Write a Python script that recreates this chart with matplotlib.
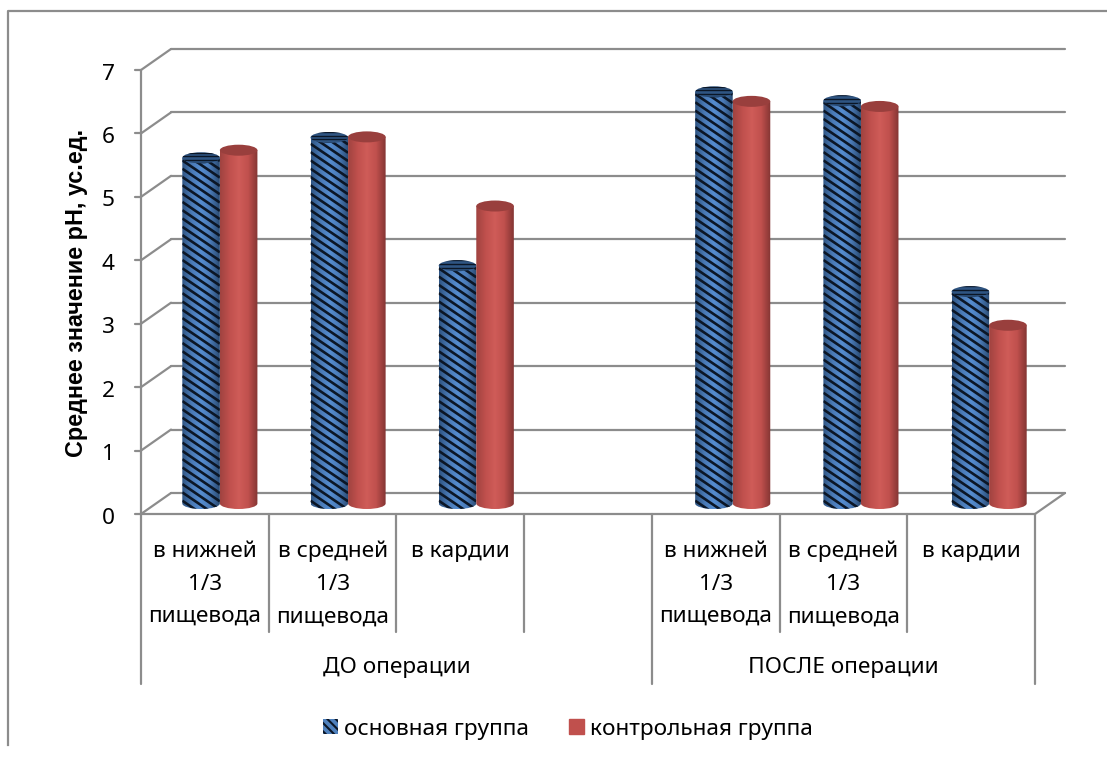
import matplotlib
matplotlib.use("Agg")
import matplotlib.pyplot as plt
import numpy as np
from matplotlib.collections import LineCollection
from matplotlib.colors import LinearSegmentedColormap
from matplotlib.lines import Line2D
from matplotlib.patches import Patch, PathPatch
from matplotlib.path import Path
from matplotlib.transforms import Affine2D

plt.rcParams['font.family'] = ['Noto Sans', 'DejaVu Sans']
plt.rcParams['hatch.linewidth'] = 1.5

W, H = 1107, 760

# data
inner_labels = ["в нижней\n1/3\nпищевода", "в средней\n1/3\nпищевода", "в кардии", "",
                "в нижней\n1/3\nпищевода", "в средней\n1/3\nпищевода", "в кардии"]
outer_labels = ["ДО операции", "ПОСЛЕ операции"]
series_names = ["основная группа", "контрольная группа"]
slots = [0, 1, 2, 4, 5, 6]
main_group = [5.45, 5.77, 3.75, 6.49, 6.35, 3.34]
control_group = [5.57, 5.78, 4.69, 6.34, 6.26, 2.81]

GRID = "#8c8c8c"
BLUE = "#4f81bd"
RED = "#c0504d"
HATCH = "#0b1626"
FONT = 16.3

blue_map = LinearSegmentedColormap.from_list("b", ["#2f5583", "#4a7ab6", "#558dd0", "#4a7ab6", "#2a4a72"])
red_map = LinearSegmentedColormap.from_list("r", ["#a04340", "#c0504d", "#cf5c58", "#c0504d", "#843533"])

fig = plt.figure(figsize=(W / 100, H / 100), dpi=100)
# front plane of the 3D box: x 141..1035, y 70..514 px
ax = fig.add_axes([141 / W, 1 - 514 / H, (1035 - 141) / W, (514 - 70) / H])
ax.set_xlim(0, 7)
ax.set_ylim(0, 7)
ax.axis("off")


def shifted(dx, dy):
    return ax.transData + Affine2D().translate(dx, dy)


def stripes(patch, slope, step, lw, z):
    # diagonal texture of the blue columns, clipped to the column shape
    bb = patch.get_path().transformed(patch.get_transform()).get_extents()
    span = bb.width * abs(slope)
    starts = np.arange(bb.y0, bb.y1 + span + step, step)
    segs = [[(bb.x0, y), (bb.x1, y + slope * bb.width)] for y in starts]
    lc = LineCollection(segs, colors=HATCH, linewidths=lw, transform=None, zorder=patch.get_zorder() + 0.05)
    ax.add_collection(lc, autolim=False)
    lc.set_clip_path(patch)


def cylinder(xc, val, halfw, dx, cmap, top, textured=False, z=3):
    # body and lid of one column, sitting in the middle of the box depth
    tr = shifted(dx, 10.5)
    k = 0.5523
    ry = 5.5 * 7 / 444  # ellipse height in axis units
    x0, x1 = xc - halfw, xc + halfw
    verts = [(x0, val), (x1, val), (x1, 0),
             (x1, -k * ry), (xc + k * halfw, -ry), (xc, -ry),
             (xc - k * halfw, -ry), (x0, -k * ry), (x0, 0), (x0, val)]
    codes = [Path.MOVETO, Path.LINETO, Path.LINETO,
             Path.CURVE4, Path.CURVE4, Path.CURVE4,
             Path.CURVE4, Path.CURVE4, Path.CURVE4, Path.CLOSEPOLY]
    body = PathPatch(Path(verts, codes), transform=tr, fc="none", ec="none", zorder=z)
    ax.add_patch(body)
    grad = np.linspace(0, 1, 64)[None, :]
    im = ax.imshow(grad, cmap=cmap, extent=(x0, x1, -ry, val), aspect="auto",
                   transform=tr, zorder=z)
    im.set_clip_path(body)
    if textured:
        stripes(body, -0.68, 8.3, 1.9, z)
    lid = [(x0, val), (x0, val + k * ry), (xc - k * halfw, val + ry), (xc, val + ry),
           (xc + k * halfw, val + ry), (x1, val + k * ry), (x1, val),
           (x1, val - k * ry), (xc + k * halfw, val - ry), (xc, val - ry),
           (xc - k * halfw, val - ry), (x0, val - k * ry), (x0, val), (x0, val)]
    lid_codes = [Path.MOVETO] + [Path.CURVE4] * 12 + [Path.CLOSEPOLY]
    cap = PathPatch(Path(lid, lid_codes), transform=tr, fc=top, ec="none", zorder=z + 0.2)
    ax.add_patch(cap)
    if textured:
        stripes(cap, 0.0, 3.6, 1.0, z + 0.2)


# box: left axis, depth lines, back gridlines, floor
line = dict(color=GRID, lw=1.6, solid_capstyle="round", clip_on=False)
ax.plot([0, 0], [0, 7], **line)
ax.plot([0, 7], [0, 0], **line)
back_tr = shifted(30, 21)
for v in range(8):
    ax.plot([0, 7], [v, v], transform=back_tr, zorder=1, **line)
    # depth diagonal from the front axis to the back wall, with a short tick
    p0 = ax.transData.transform((0, v))
    ax.add_line(Line2D([p0[0], p0[0] + 30], [p0[1], p0[1] + 21], transform=None, zorder=1, **line))
    ax.add_line(Line2D([p0[0] - 6, p0[0]], [p0[1], p0[1]], transform=None, zorder=1, **line))
pr = ax.transData.transform((7, 0))
ax.add_line(Line2D([pr[0], pr[0] + 30], [pr[1], pr[1] + 21], transform=None, zorder=1, **line))

# columns
halfw = 0.147
for s, a, b in zip(slots, main_group, control_group):
    dx = 15 + s * 0.5
    cylinder(s + 0.5 - halfw, a, halfw, dx, blue_map, "#2f5583", textured=True, z=3)
    cylinder(s + 0.5 + halfw, b, halfw, dx, red_map, "#993f3d", z=4)

# y tick labels and title
for v in range(8):
    ax.annotate(str(v), (0, v), xytext=(-26, -4), textcoords="offset pixels",
                ha="right", va="center", fontsize=FONT, color="black")
fig.text(77 / W, 1 - 293 / H, "Среднее значение рН, ус.ед.", rotation=90, ha="center", va="center",
         fontsize=16.8, fontweight="bold", family="Liberation Sans", color="black")

# two-level category axis, drawn below the front floor edge
trans = ax.get_xaxis_transform()
for i in range(8):
    low = -170 / 444 if i in (0, 4, 7) else -118 / 444
    ax.plot([i, i], [0, low], transform=trans, **line)
for i, lab in enumerate(inner_labels):
    if lab:
        ax.text(i + 0.5, -27 / 444, lab, transform=trans, ha="center", va="top", fontsize=FONT,
                linespacing=1.72, color="black", clip_on=False)
ax.text(2, -153 / 444, outer_labels[0], transform=trans, ha="center", va="center", fontsize=FONT)
ax.text(5.5, -153 / 444, outer_labels[1], transform=trans, ha="center", va="center", fontsize=FONT)

# legend
handles = [Patch(facecolor=BLUE, edgecolor=HATCH, lw=0, hatch="\\\\\\\\"), Patch(facecolor=RED, edgecolor=RED)]
leg = fig.legend(handles, series_names, loc="center", bbox_to_anchor=(568 / W, 1 - 729 / H), ncol=2,
                 frameon=False, fontsize=FONT, handlelength=0.66, handleheight=0.66,
                 handletextpad=0.27, columnspacing=1.8, borderpad=0)

# outer chart frame: only left and top edges are visible
fig.add_artist(Line2D([8 / W, 8 / W, 1], [1 - 745 / H, 1 - 11 / H, 1 - 11 / H], color=GRID, lw=1.6))

fig.savefig("out.png", dpi=100, facecolor="white")
